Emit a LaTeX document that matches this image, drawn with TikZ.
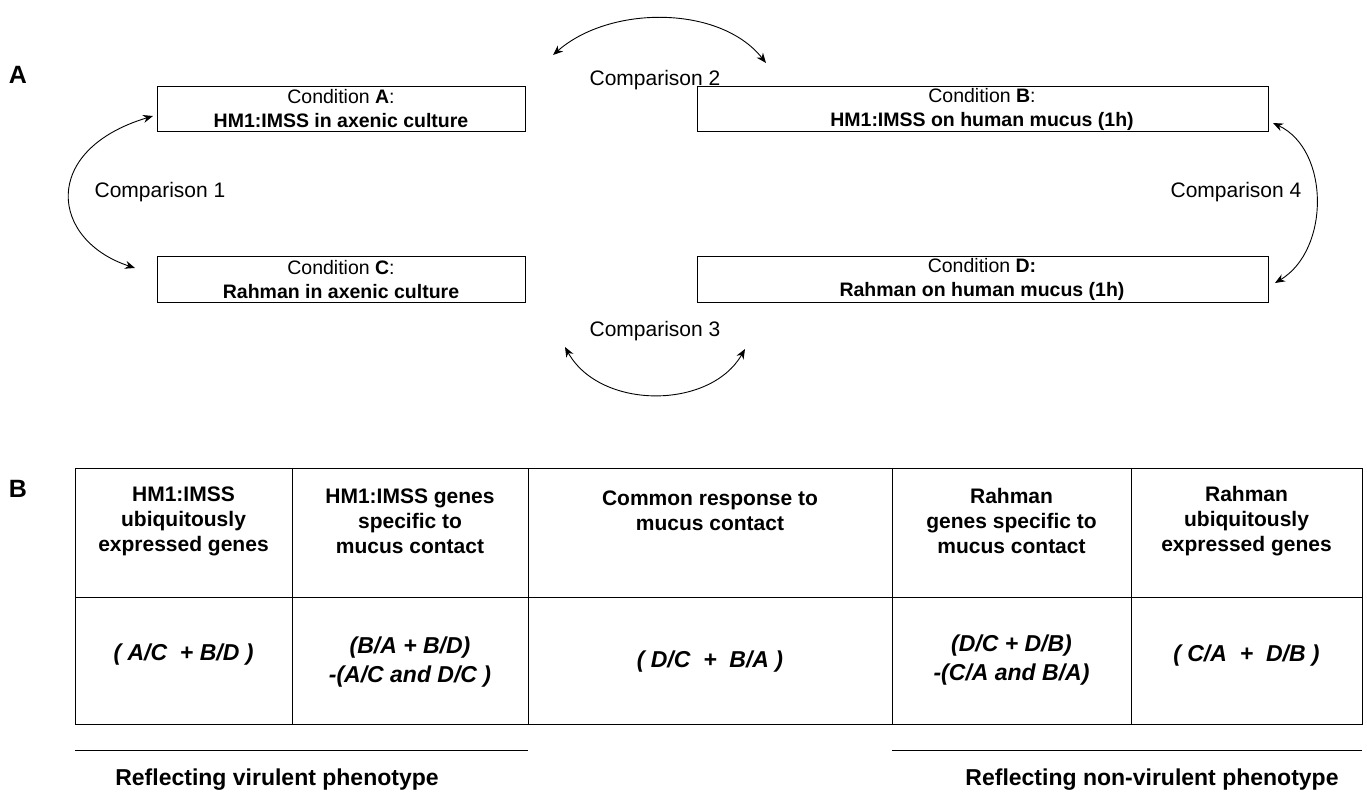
\documentclass[tikz,border=0pt]{standalone}
\usepackage{fontspec}
\setmainfont{Liberation Sans}
\usetikzlibrary{arrows.meta}
\begin{document}
\begin{tikzpicture}[x=1pt,y=-1pt,
  box/.style={draw,line width=0.9pt,inner sep=0pt},
  cond/.style={font=\fontsize{19.5}{24}\selectfont,align=center},
  cmp/.style={font=\fontsize{21}{24}\selectfont},
  arr/.style={line width=0.9pt,{Stealth[length=10pt,width=8pt]}-{Stealth[length=10pt,width=8pt]}},
  hd/.style={font=\fontsize{21}{25}\selectfont\bfseries,align=center},
  fm/.style={font=\fontsize{23}{29}\selectfont\bfseries\itshape,align=center},
  big/.style={font=\fontsize{25}{28}\selectfont\bfseries}]
\useasboundingbox (0,0) rectangle (1367,800);
\node[big] (la) at (18,75) {A};
\node[big] (lb) at (18,489) {B};
\draw[box] (157,86) rectangle (525,131);
\node[cond] (a) at (341,109) {Condition \textbf{A}:\\\textbf{HM1:IMSS in axenic culture}};
\draw[box] (697,86) rectangle (1268,131);
\node[cond] (b) at (982,109) {Condition \textbf{B}:\\\textbf{HM1:IMSS on human mucus (1h)}};
\draw[box] (157,256) rectangle (525,302);
\node[cond] (c) at (341,279.5) {Condition \textbf{C}:\\\textbf{Rahman in axenic culture}};
\draw[box] (697,256) rectangle (1268,302);
\node[cond] (d) at (982,279.5) {Condition \textbf{D:}\\\textbf{Rahman on human mucus (1h)}};
\node[cmp] (c1) at (160,192) {Comparison 1};
\node[cmp] (c2) at (655,80) {Comparison 2};
\node[cmp] (c3) at (655,331) {Comparison 3};
\node[cmp] (c4) at (1236,192) {Comparison 4};
\coordinate (p1s) at (153,116); \coordinate (p1e) at (135,268);
\draw[arr] (p1s) .. controls (40,150) and (50,240) .. (p1e);
\coordinate (p2s) at (553,55); \coordinate (p2e) at (766,63);
\draw[arr] (p2s) .. controls (610,5) and (720,5) .. (p2e);
\coordinate (p3s) at (565,347); \coordinate (p3e) at (745,349);
\draw[arr] (p3s) .. controls (600,410) and (710,410) .. (p3e);
\coordinate (p4s) at (1273,123); \coordinate (p4e) at (1275,283);
\draw[arr] (p4s) .. controls (1330,150) and (1330,250) .. (p4e);
% table
\draw[line width=0.9pt] (75,468) rectangle (1362,724);
\draw[line width=0.9pt] (75,597) -- (1362,597);
\foreach \x in {292,528,892,1131} \draw[line width=0.9pt] (\x,468) -- (\x,724);
\node[hd] (h1) at (183.5,521) {HM1:IMSS\\ubiquitously\\expressed genes};
\node[hd] (h2) at (410,521) {HM1:IMSS genes\\specific to\\mucus contact};
\node[hd] (h3) at (710,511) {Common response to\\mucus contact};
\node[hd] (h4) at (1011.5,521) {Rahman\\genes specific to\\mucus contact};
\node[hd] (h5) at (1246.5,521) {Rahman\\ubiquitously\\expressed genes};
\node[fm] (f1) at (183.5,655) {( A/C\ \ + B/D )};
\node[fm] (f2) at (410,662) {(B/A + B/D)\\-(A/C and D/C )};
\node[fm] (f3) at (710,662) {( D/C\ \ +\ \ B/A )};
\node[fm] (f4) at (1011.5,660) {(D/C + D/B)\\-(C/A and B/A)};
\node[fm] (f5) at (1246.5,656) {( C/A\ \ +\ \ D/B )};
\coordinate (l1a) at (75,750); \coordinate (l1b) at (528,750);
\coordinate (l2a) at (892,750); \coordinate (l2b) at (1362,750);
\draw[line width=0.8pt] (l1a) -- (l1b);
\draw[line width=0.8pt] (l2a) -- (l2b);
\node[font=\fontsize{23}{26}\selectfont\bfseries] (r1) at (277,780) {Reflecting virulent phenotype};
\node[font=\fontsize{23}{26}\selectfont\bfseries] (r2) at (1152,780) {Reflecting non-virulent phenotype};
\end{tikzpicture}
\end{document}
